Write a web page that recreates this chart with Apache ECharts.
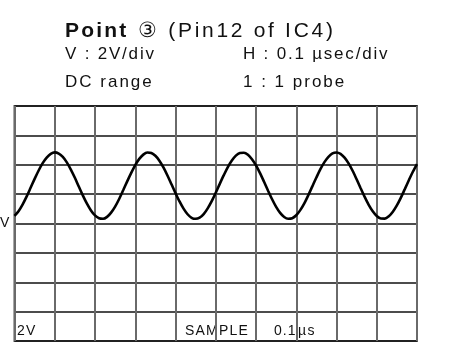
<!DOCTYPE html>
<html>
<head>
<meta charset="utf-8">
<script src="https://cdn.jsdelivr.net/npm/echarts@6/dist/echarts.min.js"></script>
<style>
  html, body { margin: 0; padding: 0; background: #fff; }
  #scope { width: 450px; height: 350px; }
</style>
</head>
<body>
<div id="scope"></div>
<script>
// Oscilloscope screen: 10 horizontal divisions of 0.1 µs, 8 vertical divisions of 2 V.
const timeDivUs = 0.1;
const voltDiv = 2;
const hDivs = 10;
const vDivs = 8;

// Trace samples, one every 0.01 µs (volts).
const sampleStepUs = 0.01;
const voltage = [
  0.52, 0.84, 1.29, 1.83, 2.43, 3.04, 3.61, 4.11, 4.49, 4.74,
  4.84, 4.76, 4.53, 4.16, 3.67, 3.11, 2.50, 1.90, 1.35, 0.89,
  0.55, 0.36, 0.32, 0.45, 0.74, 1.15, 1.67, 2.26, 2.87, 3.45,
  3.98, 4.40, 4.69, 4.83, 4.80, 4.61, 4.28, 3.82, 3.27, 2.67,
  2.07, 1.50, 1.01, 0.63, 0.39, 0.32, 0.40, 0.64, 1.03, 1.52,
  2.09, 2.70, 3.29, 3.84, 4.29, 4.62, 4.80, 4.82, 4.68, 4.38,
  3.96, 3.43, 2.84, 2.23, 1.65, 1.13, 0.72, 0.44, 0.32, 0.36,
  0.56, 0.91, 1.37, 1.93, 2.53, 3.13, 3.70, 4.18, 4.54, 4.77,
  4.83, 4.74, 4.48, 4.09, 3.59, 3.01, 2.40, 1.81, 1.27, 0.83,
  0.51, 0.34, 0.33, 0.49, 0.80, 1.23, 1.76, 2.36, 2.96, 3.54,
  4.05
];

// Screen annotations
const titleBold = 'Point';
const titleRest = '③ (Pin12 of IC4)';
const vSetting = 'V : 2V/div';
const hSetting = 'H : 0.1 µsec/div';
const coupling = 'DC range';
const probe = '1 : 1 probe';
const chScale = '2V';
const modeLabel = 'SAMPLE';
const timeValue = '0.1';
const timeUnit = 'µs';
const groundMark = 'V';

const trace = voltage.map((v, i) => [+(i * sampleStepUs).toFixed(2), v]);

const fontFamily = '"Liberation Sans", Arial, sans-serif';
const measureCtx = document.createElement('canvas').getContext('2d');

// Tracked text: each glyph placed separately with extra spacing between letters.
function tracked(x, y, text, size, weight, spacing) {
  weight = weight || 'normal';
  measureCtx.font = weight + ' ' + size + 'px ' + fontFamily;
  const out = [];
  let cx = x;
  for (const ch of text) {
    out.push({
      type: 'text', x: cx, y: y, silent: true,
      style: { text: ch, fontFamily: fontFamily, fontSize: size, fontWeight: weight,
               fill: '#111', verticalAlign: 'middle', align: 'left' }
    });
    cx += measureCtx.measureText(ch).width + spacing;
  }
  return out;
}

const chart = echarts.init(document.getElementById('scope'), null, { renderer: 'canvas' });
chart.setOption({
  backgroundColor: '#fff',
  animation: false,
  grid: { left: 14.5, top: 106, width: 402.5, height: 235, show: false },
  xAxis: {
    type: 'value', min: 0, max: hDivs * timeDivUs, interval: timeDivUs,
    axisLine: { show: false }, axisTick: { show: false }, axisLabel: { show: false },
    splitLine: { show: true, lineStyle: { color: '#6a6a6a', width: 2 } }
  },
  yAxis: {
    type: 'value', min: -vDivs / 2 * voltDiv, max: vDivs / 2 * voltDiv, interval: voltDiv,
    axisLine: { show: false }, axisTick: { show: false }, axisLabel: { show: false },
    splitLine: { show: true, lineStyle: { color: '#111', width: 1.5 } }
  },
  series: [{
    type: 'line', data: trace, smooth: 0.3, showSymbol: false,
    lineStyle: { color: '#000', width: 2.6 }
  }],
  graphic: [
    // outer frame
    { type: 'rect', shape: { x: 14.5, y: 106, width: 402.5, height: 235 }, silent: true,
      style: { fill: 'none', stroke: '#555', lineWidth: 2 } }
  ].concat(
    tracked(65, 31, titleBold, 21, 'bold', 2.2),
    tracked(138, 31, titleRest, 21, 'normal', 2.7),
    tracked(65, 54, vSetting, 17, 'normal', 1.8),
    tracked(243, 54, hSetting, 17, 'normal', 1.8),
    tracked(65, 82, coupling, 17, 'normal', 2),
    tracked(243, 82, probe, 17, 'normal', 2),
    tracked(0, 223, groundMark, 14, 'normal', 0),
    tracked(17, 331, chScale, 14, 'normal', 1.2),
    tracked(185, 331, modeLabel, 14, 'normal', 1.2),
    tracked(274, 331, timeValue, 14, 'normal', 1),
    tracked(298, 331, timeUnit, 14, 'normal', 1.5)
  )
});
</script>
</body>
</html>
